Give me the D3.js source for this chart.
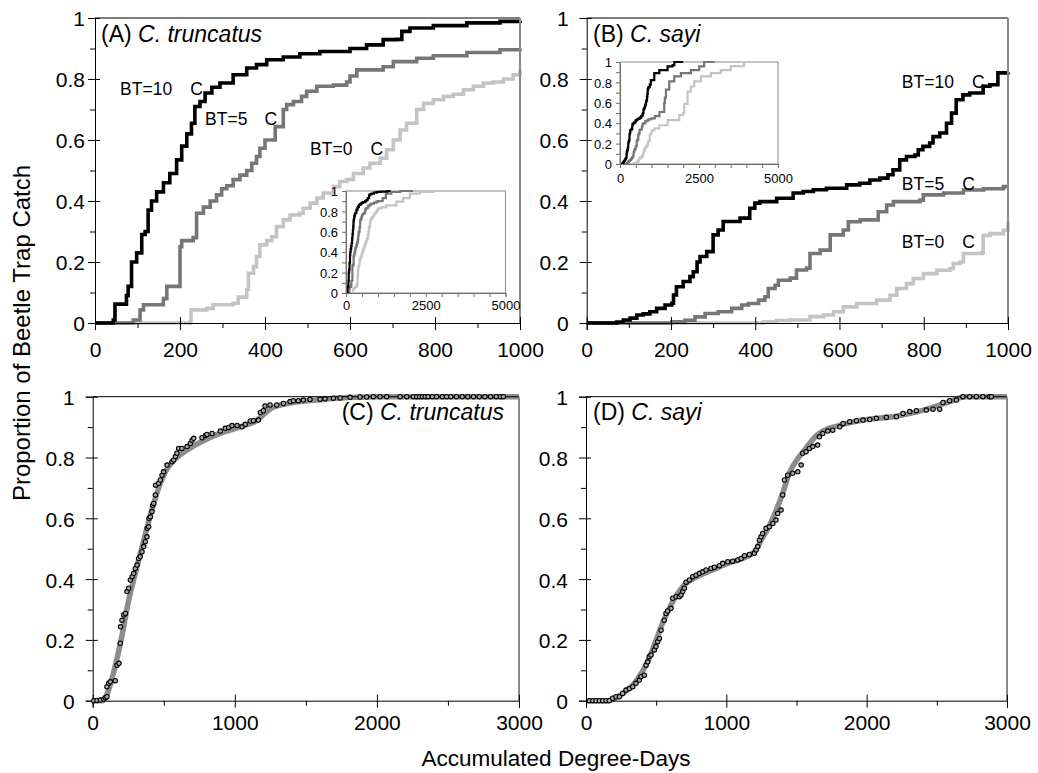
<!DOCTYPE html>
<html><head><meta charset="utf-8">
<script src="https://cdn.jsdelivr.net/npm/d3@7"></script>
<style>body{margin:0;background:#fff} text{font-family:"Liberation Sans",Arial,Helvetica,sans-serif}</style>
</head><body><svg id="c" width="1038" height="773"></svg>
<script>
// ---------------- DATA ----------------
const yTicks = [0, 0.2, 0.4, 0.6, 0.8, 1];
const xTicksTop = [0, 200, 400, 600, 800, 1000];
const xTicksBottom = [0, 1000, 2000, 3000];
const insetXTicks = [0, 2500, 5000];
const btLabels = ["BT=10", "BT=5", "BT=0"];
const panelTitles = ["(A) ", "(B) ", "(C) ", "(D) "];
const speciesNames = ["C. truncatus", "C. sayi", "C. truncatus", "C. sayi"];
const xAxisTitle = "Accumulated Degree-Days";
const yAxisTitle = "Proportion of Beetle Trap Catch";

// C. truncatus cumulative catch by base temperature (degree-days, proportion)
const truncBT10 = [[0,0],[20,0],[43,0.01],[47,0.062],[74,0.09],[78,0.12],[86,0.2],[98,0.23],[110,0.29],[118,0.30],[125,0.37],[133,0.40],[145,0.43],[161,0.46],[176,0.49],[192,0.535],[204,0.58],[216,0.62],[227,0.655],[235,0.71],[247,0.726],[259,0.754],[275,0.773],[294,0.787],[325,0.814],[357,0.836],[380,0.847],[404,0.863],[443,0.872],[482,0.883],[529,0.89],[600,0.90],[639,0.912],[678,0.929],[710,0.93],[722,0.956],[741,0.967],[796,0.975],[875,0.984],[953,0.989],[1000,0.991],[1100,0.994],[1300,1.0],[1400,1.0]];
const truncBT5 = [[0,0],[60,0],[90,0.01],[106,0.043],[114,0.06],[161,0.08],[169,0.12],[200,0.25],[204,0.27],[231,0.28],[239,0.36],[255,0.38],[271,0.40],[286,0.42],[298,0.44],[310,0.45],[325,0.47],[341,0.485],[357,0.50],[369,0.524],[380,0.546],[388,0.573],[400,0.60],[424,0.644],[443,0.70],[451,0.716],[467,0.726],[486,0.743],[498,0.76],[522,0.776],[561,0.78],[592,0.79],[600,0.81],[616,0.83],[678,0.84],[702,0.857],[757,0.868],[796,0.876],[875,0.887],[953,0.896],[1000,0.90],[1150,0.93],[1250,0.975],[1420,0.99],[1700,1.0],[2100,1.0]];
const truncBT0 = [[0,0],[180,0],[224,0.005],[226,0.043],[263,0.048],[278,0.06],[325,0.065],[337,0.085],[357,0.11],[361,0.163],[373,0.185],[380,0.218],[388,0.256],[404,0.27],[416,0.283],[427,0.316],[443,0.338],[459,0.354],[482,0.36],[490,0.376],[506,0.393],[522,0.41],[537,0.426],[561,0.447],[576,0.464],[592,0.47],[608,0.49],[631,0.508],[647,0.524],[671,0.54],[686,0.568],[702,0.60],[718,0.633],[733,0.655],[757,0.70],[773,0.72],[796,0.732],[820,0.743],[843,0.75],[867,0.765],[890,0.776],[914,0.787],[937,0.79],[961,0.80],[984,0.814],[1000,0.83],[1100,0.84],[1263,0.86],[1580,0.895],[1790,0.93],[2000,0.975],[2316,0.99],[2740,1.0],[4400,1.0]];

// C. sayi cumulative catch by base temperature
const sayiBT10 = [[0,0],[71,0.003],[87,0.01],[103,0.016],[119,0.026],[134,0.03],[150,0.037],[166,0.048],[186,0.059],[202,0.065],[206,0.092],[213,0.119],[229,0.136],[245,0.152],[253,0.168],[262,0.2],[269,0.218],[285,0.234],[300,0.289],[312,0.305],[324,0.333],[364,0.344],[387,0.376],[399,0.393],[411,0.398],[451,0.409],[490,0.426],[514,0.431],[538,0.437],[569,0.442],[617,0.453],[648,0.458],[672,0.469],[696,0.475],[715,0.486],[727,0.502],[743,0.535],[759,0.546],[779,0.551],[787,0.568],[798,0.579],[814,0.59],[822,0.611],[838,0.623],[854,0.655],[866,0.688],[877,0.732],[893,0.748],[909,0.754],[941,0.776],[957,0.781],[976,0.82],[1000,0.822],[1085,0.89],[1243,0.92],[1506,0.957],[1664,0.97],[1720,1.0],[2000,1.0]];
const sayiBT5 = [[0,0],[170,0],[202,0.004],[233,0.009],[257,0.02],[281,0.031],[312,0.037],[344,0.048],[368,0.059],[384,0.064],[408,0.075],[423,0.086],[431,0.113],[447,0.124],[455,0.14],[483,0.147],[498,0.174],[522,0.18],[530,0.228],[554,0.239],[578,0.289],[609,0.305],[621,0.332],[649,0.338],[692,0.365],[712,0.387],[728,0.398],[791,0.403],[799,0.42],[847,0.426],[894,0.436],[942,0.44],[989,0.447],[1000,0.447],[1100,0.47],[1250,0.51],[1400,0.60],[1420,0.65],[1453,0.73],[1558,0.81],[1716,0.86],[1927,0.89],[2243,0.92],[2506,0.957],[2664,1.0],[3000,1.0]];
const sayiBT0 = [[0,0],[370,0],[419,0.004],[450,0.008],[482,0.01],[530,0.021],[562,0.026],[586,0.037],[609,0.053],[641,0.064],[688,0.075],[720,0.091],[736,0.113],[759,0.129],[775,0.146],[799,0.162],[831,0.173],[862,0.178],[870,0.195],[886,0.2],[894,0.228],[938,0.23],[941,0.287],[957,0.293],[989,0.304],[1000,0.33],[1085,0.35],[1243,0.38],[1506,0.43],[1874,0.48],[1990,0.50],[2032,0.59],[2138,0.71],[2243,0.76],[2348,0.81],[2559,0.86],[2875,0.89],[3191,0.92],[3506,0.96],[3928,1.0],[4350,1.0]];

// Observed points and fitted curves (panels C, D)
const truncObs = [[7,0],[30,0.001],[54,0.002],[77,0.005],[89,0.01],[100,0.013],[100,0.046],[112,0.057],[124,0.062],[159,0.066],[171,0.117],[185,0.123],[194,0.189],[196,0.243],[206,0.265],[218,0.282],[230,0.287],[241,0.359],[253,0.37],[265,0.397],[277,0.408],[288,0.419],[300,0.435],[312,0.446],[323,0.468],[335,0.474],[347,0.49],[359,0.507],[370,0.523],[382,0.539],[384,0.567],[394,0.572],[396,0.6],[406,0.605],[417,0.622],[422,0.643],[429,0.649],[441,0.677],[443,0.709],[464,0.715],[476,0.726],[488,0.742],[499,0.753],[523,0.775],[558,0.786],[570,0.792],[582,0.803],[593,0.814],[605,0.83],[628,0.83],[664,0.836],[687,0.846],[699,0.857],[711,0.863],[769,0.865],[793,0.872],[804,0.876],[840,0.879],[898,0.887],[933,0.896],[957,0.899],[980,0.905],[1016,0.905],[1051,0.901],[1074,0.909],[1109,0.92],[1131,0.921],[1166,0.923],[1180,0.948],[1201,0.954],[1213,0.969],[1248,0.973],[1295,0.973],[1342,0.978],[1389,0.984],[1412,0.987],[1447,0.987],[1482,0.989],[1529,0.991],[1600,0.992],[1635,0.993],[1694,0.995],[1741,0.996],[1811,0.998],[1881,0.999],[1928,0.999],[1975,1],[2022,1],[2069,1],[2163,1],[2210,1],[2257,1],[2280,1],[2300,1],[2320,1],[2340,1],[2360,1],[2390,1],[2420,1],[2460,1],[2490,1],[2520,1],[2560,1],[2600,1],[2640,1],[2680,1],[2720,1],[2760,1],[2800,1],[2840,1],[2870,1],[2890,1]];
const truncFit = [[0,0],[70,0],[100,0.02],[140,0.08],[200,0.2],[253,0.33],[300,0.42],[350,0.51],[400,0.6],[450,0.68],[480,0.72],[520,0.76],[560,0.785],[620,0.81],[700,0.835],[800,0.86],[900,0.88],[1000,0.895],[1100,0.91],[1150,0.92],[1200,0.94],[1250,0.96],[1300,0.97],[1400,0.98],[1600,0.99],[1800,0.997],[2000,1],[3000,1]];
const sayiObs = [[24,0],[48,0],[71,0],[95,0],[119,0],[143,0],[166,0],[190,0.008],[214,0.013],[238,0.013],[261,0.024],[285,0.035],[309,0.04],[333,0.046],[356,0.057],[380,0.068],[392,0.079],[416,0.084],[428,0.117],[440,0.128],[451,0.145],[463,0.15],[487,0.167],[499,0.178],[511,0.194],[523,0.205],[535,0.232],[558,0.265],[570,0.287],[582,0.295],[606,0.304],[618,0.337],[642,0.342],[665,0.342],[677,0.348],[689,0.359],[701,0.37],[713,0.39],[737,0.397],[760,0.408],[784,0.413],[808,0.419],[832,0.424],[855,0.43],[891,0.435],[915,0.439],[950,0.444],[974,0.452],[1010,0.457],[1045,0.459],[1081,0.463],[1105,0.468],[1129,0.477],[1164,0.481],[1200,0.485],[1212,0.496],[1224,0.507],[1236,0.528],[1247,0.539],[1259,0.55],[1283,0.567],[1307,0.572],[1331,0.583],[1354,0.594],[1366,0.616],[1390,0.627],[1402,0.677],[1414,0.726],[1437,0.742],[1473,0.748],[1509,0.753],[1533,0.775],[1544,0.814],[1568,0.819],[1592,0.83],[1616,0.836],[1651,0.841],[1663,0.868],[1687,0.879],[1723,0.887],[1758,0.89],[1808,0.901],[1832,0.912],[1879,0.918],[1927,0.921],[1974,0.923],[2022,0.925],[2069,0.929],[2140,0.932],[2212,0.934],[2259,0.945],[2307,0.951],[2354,0.954],[2425,0.956],[2473,0.959],[2520,0.959],[2544,0.981],[2591,0.987],[2639,0.989],[2686,1],[2734,1],[2781,1],[2828,1],[2876,1],[2888,1]];
const sayiFit = [[0,0],[150,0],[250,0.02],[350,0.06],[450,0.14],[500,0.2],[550,0.26],[600,0.31],[650,0.35],[700,0.38],[800,0.41],[900,0.43],[1000,0.45],[1100,0.465],[1200,0.49],[1250,0.53],[1300,0.57],[1350,0.62],[1400,0.68],[1450,0.75],[1500,0.79],[1550,0.82],[1600,0.85],[1650,0.875],[1700,0.89],[1800,0.905],[2000,0.925],[2200,0.935],[2400,0.955],[2600,0.985],[2700,1.0],[3000,1.0]];

// ---------------- DRAWING ----------------
const svg = d3.select("#c");
const FONT_TICK = 21;
const lineColors = ["#000000", "#767676", "#c4c4c4"];
const fmt = d => String(+d.toFixed(1));
const fmtInt = d3.format("d");

function range(a, b, s) { const r = []; for (let v = a; v <= b + 1e-9; v += s) r.push(+v.toFixed(6)); return r; }

function frame(p, x, y, opts) {
  const g = svg.append("g");
  g.append("line").attr("x1", p.left).attr("x2", p.right).attr("y1", p.top).attr("y2", p.top)
    .attr("stroke", "#000").attr("stroke-width", 1);
  g.append("line").attr("x1", p.right).attr("x2", p.right).attr("y1", p.top).attr("y2", p.bottom)
    .attr("stroke", "#8a8a8a").attr("stroke-width", 2);
  const ya = g.append("g").attr("transform", `translate(${p.left},0)`)
    .call(d3.axisLeft(y).tickValues(yTicks).tickFormat(fmt).tickSize(7).tickPadding(p.yPad));
  ya.selectAll("text").attr("font-size", FONT_TICK).attr("dy", "0.38em").attr("fill", "#000");
  ya.select(".domain").attr("stroke", "#000");
  g.append("g").attr("transform", `translate(${p.left},0)`)
    .call(d3.axisLeft(y).tickValues(yTicks).tickFormat("").tickSize(-5)).select(".domain").remove();
  g.append("g").attr("transform", `translate(${p.left},0)`)
    .call(d3.axisLeft(y).tickValues(range(0.1, 0.9, 0.2)).tickFormat("").tickSize(5)).select(".domain").remove();
  const xa = g.append("g").attr("transform", `translate(0,${p.bottom})`)
    .call(d3.axisBottom(x).tickValues(opts.xTicks).tickFormat(fmtInt).tickSize(7).tickPadding(p.xPad));
  xa.selectAll("text").attr("font-size", FONT_TICK).attr("fill", "#000");
  xa.select(".domain").attr("stroke", "#000");
  g.append("g").attr("transform", `translate(0,${p.bottom})`)
    .call(d3.axisBottom(x).tickValues(opts.xTicks).tickFormat("").tickSize(-6)).select(".domain").remove();
  g.append("g").attr("transform", `translate(0,${p.bottom})`)
    .call(d3.axisBottom(x).tickValues(opts.xMinor).tickFormat("").tickSize(5)).select(".domain").remove();
  g.selectAll(".tick line").attr("stroke", "#000");
  return g;
}

function panelTitle(p, idx, anchorX, baseline, anchor) {
  const t = svg.append("text").attr("x", anchorX).attr("y", baseline).attr("font-size", 23)
    .attr("text-anchor", anchor || "start").attr("fill", "#000");
  t.append("tspan").text(panelTitles[idx]);
  t.append("tspan").attr("font-style", "italic").text(speciesNames[idx]);
}

function btLabel(x, y, i, dx) {
  const t = svg.append("text").attr("x", x).attr("y", y).attr("font-size", 17.5).attr("fill", "#000");
  t.append("tspan").text(btLabels[i]);
  t.append("tspan").attr("dx", dx).text("C");
}

function inset(ip, seriesList) {
  const x = d3.scaleLinear().domain([0, 5000]).range([ip.left, ip.right]);
  const y = d3.scaleLinear().domain([0, 1]).range([ip.bottom, ip.top]);
  const g = svg.append("g");
  g.append("rect").attr("x", ip.left).attr("y", ip.top).attr("width", ip.right - ip.left)
    .attr("height", ip.bottom - ip.top).attr("fill", "#fff").attr("stroke", "#8a8a8a").attr("stroke-width", 1);
  const ln = d3.line().x(d => x(d[0])).y(d => y(d[1])).curve(d3.curveStepAfter);
  [2, 1, 0].forEach(i => {
    g.append("path").attr("d", ln(seriesList[i])).attr("fill", "none")
      .attr("stroke", lineColors[i]).attr("stroke-width", 2.2);
  });
  const ya = g.append("g").attr("transform", `translate(${ip.left},0)`)
    .call(d3.axisLeft(y).tickValues(range(0, 1, 0.1)).tickFormat((d, i) => i % 2 === 0 ? fmt(d) : "").tickSize(4).tickPadding(4));
  const xa = g.append("g").attr("transform", `translate(0,${ip.bottom})`)
    .call(d3.axisBottom(x).tickValues(range(0, 5000, 500)).tickFormat(d => insetXTicks.includes(d) ? fmtInt(d) : "").tickSize(4).tickPadding(ip.xPad));
  [ya, xa].forEach(a => {
    a.select(".domain").attr("stroke", "#6e6e6e");
    a.selectAll(".tick line").attr("stroke", "#6e6e6e");
    a.selectAll("text").attr("font-size", 13).attr("fill", "#000");
  });
  ya.selectAll("text").attr("dy", "0.36em");
}

function stepPanel(p, seriesList) {
  const x = d3.scaleLinear().domain([0, 1000]).range([p.left, p.right]);
  const y = d3.scaleLinear().domain([0, 1]).range([p.bottom, p.top]);
  const ln = d3.line().x(d => x(d[0])).y(d => y(d[1])).curve(d3.curveStepAfter);
  [2, 1, 0].forEach(i => {
    svg.append("path").attr("d", ln(seriesList[i].filter(d => d[0] <= 1000)))
      .attr("fill", "none").attr("stroke", lineColors[i]).attr("stroke-width", 3.6)
      .attr("stroke-linejoin", "miter");
  });
  frame(p, x, y, { xTicks: xTicksTop, xMinor: range(100, 900, 200) });
  return { x, y };
}

const pA = { left: 95, right: 520, top: 18, bottom: 323, yPad: 3, xPad: 12 };
const pB = { left: 586.7, right: 1008, top: 18, bottom: 323, yPad: 11, xPad: 12 };
const pC = { left: 92.7, right: 519, top: 396.7, bottom: 700.7, yPad: 11, xPad: 7 };
const pD = { left: 586, right: 1007, top: 396.7, bottom: 700.7, yPad: 11, xPad: 7 };

const sA = stepPanel(pA, [truncBT10, truncBT5, truncBT0]);
panelTitle(pA, 0, 101, 42);
btLabel(sA.x(59), sA.y(0.748), 0, 18);
btLabel(sA.x(259), sA.y(0.649), 1, 17);
btLabel(sA.x(506), sA.y(0.551), 2, 18);
inset({ left: 346, right: 505.5, top: 191, bottom: 293, xPad: 4 }, [truncBT10, truncBT5, truncBT0]);

const sB = stepPanel(pB, [sayiBT10, sayiBT5, sayiBT0]);
panelTitle(pB, 1, 593, 42);
btLabel(sB.x(748), sB.y(0.77), 0, 18);
btLabel(sB.x(748), sB.y(0.436), 1, 18);
btLabel(sB.x(748), sB.y(0.246), 2, 18);
inset({ left: 620, right: 778, top: 62, bottom: 164, xPad: 6 }, [sayiBT10, sayiBT5, sayiBT0]);

function fitPanel(p, obs, fit) {
  const x = d3.scaleLinear().domain([0, 3000]).range([p.left, p.right]);
  const y = d3.scaleLinear().domain([0, 1]).range([p.bottom, p.top]);
  svg.append("path").attr("d", d3.line().x(d => x(d[0])).y(d => y(d[1])).curve(d3.curveMonotoneX)(fit))
    .attr("fill", "none").attr("stroke", "#8c8c8c").attr("stroke-width", 5.5);
  frame(p, x, y, { xTicks: xTicksBottom, xMinor: range(500, 2500, 1000) });
  svg.append("g").selectAll("circle").data(obs).join("circle")
    .attr("cx", d => x(d[0])).attr("cy", d => y(d[1])).attr("r", 2.2)
    .attr("fill", "#a8a8a8").attr("stroke", "#000").attr("stroke-width", 1.1);
  return { x, y };
}
fitPanel(pC, truncObs, truncFit);
panelTitle(pC, 2, 504, 420, "end");
fitPanel(pD, sayiObs, sayiFit);
panelTitle(pD, 3, 593, 420);

svg.append("text").attr("transform", "translate(30,333) rotate(-90)").attr("text-anchor", "middle")
  .attr("font-size", 24).attr("fill", "#000").text(yAxisTitle);
svg.append("text").attr("x", 556).attr("y", 766).attr("text-anchor", "middle")
  .attr("font-size", 22.5).attr("fill", "#000").text(xAxisTitle);
</script></body></html>
